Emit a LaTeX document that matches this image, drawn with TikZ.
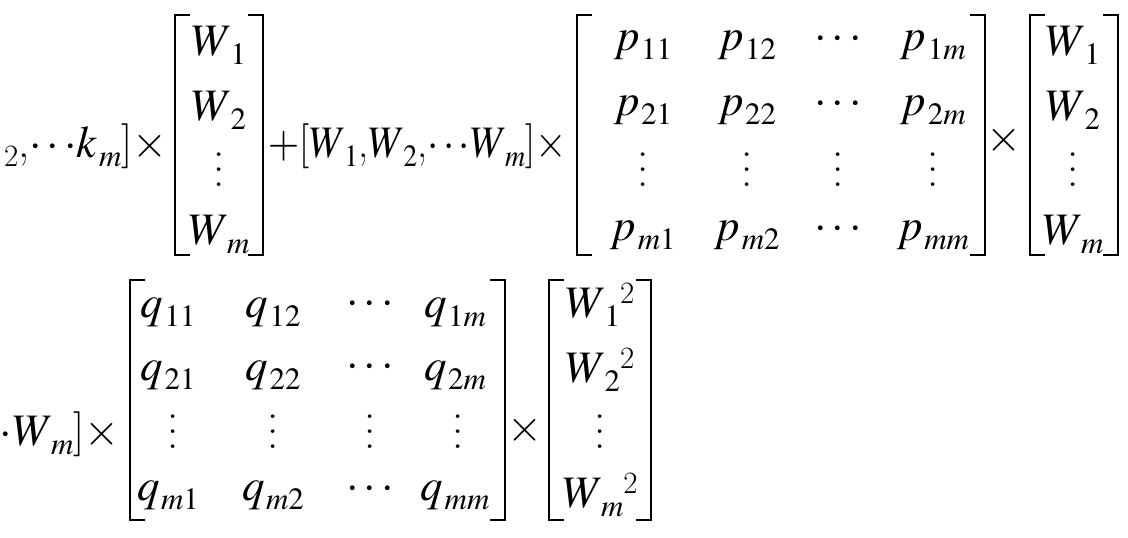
\documentclass[tikz,border=0pt]{standalone}
\usepackage{mathptmx}
\newcommand\Sb[3][1.5pt]{#2\kern#1\raisebox{-9pt}{\fontsize{31}{36}\selectfont$#3$}}
\newcommand\W[1]{\Sb[-2pt]{$W$}{#1}}
\newcommand\Wsq[1]{\W{#1}\raisebox{14pt}{\fontsize{31}{36}\selectfont 2}}
\newcommand\vd{\vbox{\baselineskip=15pt\hbox{.}\hbox{.}\hbox{.}}}
\begin{document}
\begin{tikzpicture}[x=1pt,y=-1pt,
  t/.style={inner sep=0pt,font=\fontsize{45}{52}\selectfont},
  brk/.style={line width=2.3pt}]
\useasboundingbox (0,0) rectangle (1128,538);
\newcommand\bracks[4]{%
  \draw[brk] (#1+15,#3) -- (#1,#3) -- (#1,#4) -- (#1+15,#4);
  \draw[brk] (#2-15,#3) -- (#2,#3) -- (#2,#4) -- (#2-15,#4);}
% row 1
\node[t,anchor=base east] (a1) at (168,157) {\raisebox{-9pt}{\fontsize{31}{36}\selectfont 2},$\cdots$\Sb{$k$}{m}]$\times$};
\bracks{175}{263}{15}{255}
\node[t] (v11) at (219,45) {\W{1}};
\node[t] (v12) at (219,110) {\W{2}};
\node[t] (v13) at (219,170) {\vd};
\node[t] (v14) at (219,235) {\W{m}};
\node[t,anchor=base east] (a2) at (567,157) {\scalebox{0.9}[1]{$+$[\W{1},\W{2},$\cdots$\W{m}]$\times$}};
\bracks{577}{985}{15}{255}
\foreach \r/\y in {1/45,2/110,m/235}{
  \node[t] (p\r1) at (643,\y) {\Sb{$p$}{\r 1}};
  \node[t] (p\r2) at (747,\y) {\Sb{$p$}{\r 2}};
  \node[t] (p\r4) at (933,\y) {\Sb{$p$}{\r m}};}
\node[t] (p13) at (838,40) {$\cdots$};
\node[t] (p23) at (838,105) {$\cdots$};
\node[t] (pm3) at (838,230) {$\cdots$};
\foreach \x [count=\i] in {643,747,838,933}{\node[t] (pd\i) at (\x,170) {\vd};}
\node[t] (x1) at (1004,140) {$\times$};
\bracks{1030}{1118}{15}{255}
\node[t] (u1) at (1073,45) {\W{1}};
\node[t] (u2) at (1073,110) {\W{2}};
\node[t] (u3) at (1073,170) {\vd};
\node[t] (u4) at (1073,235) {\W{m}};
% row 2
\node[t,anchor=base east] (b1) at (120,445) {$\cdots$\W{m}]$\times$};
\bracks{130}{505}{280}{520}
\foreach \r/\y in {1/312,2/375,m/495}{
  \node[t] (q\r1) at (168,\y) {\Sb{$q$}{\r 1}};
  \node[t] (q\r2) at (273,\y) {\Sb{$q$}{\r 2}};
  \node[t] (q\r4) at (455,\y) {\Sb{$q$}{\r m}};}
\node[t] (q13) at (370,305) {$\cdots$};
\node[t] (q23) at (370,368) {$\cdots$};
\node[t] (qm3) at (370,490) {$\cdots$};
\foreach \x [count=\i] in {173,273,370,458}{\node[t] (qd\i) at (\x,432) {\vd};}
\node[t] (x2) at (525,430) {$\times$};
\bracks{549}{651}{280}{520}
\node[t] (s1) at (600,305) {\Wsq{1}};
\node[t] (s2) at (600,370) {\Wsq{2}};
\node[t] (s3) at (600,432) {\vd};
\node[t] (s4) at (600,495) {\Wsq{m}};
\end{tikzpicture}
\end{document}
